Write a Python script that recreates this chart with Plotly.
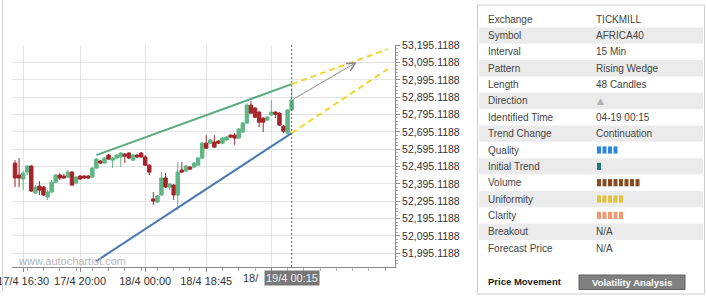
import plotly.graph_objects as go

# ---------------- data ----------------
OPEN = [52515, 52446, 52423, 52463, 52498, 52342, 52382, 52377, 52319, 52348,
        52405, 52446, 52440, 52434, 52463, 52400, 52440, 52440, 52440, 52434,
        52486, 52527, 52515, 52561, 52532, 52544, 52550, 52567, 52573, 52532,
        52561, 52573, 52550, 52503, 52308, 52290, 52331, 52429, 52377, 52388,
        52331, 52475, 52469, 52492, 52492, 52503, 52544, 52630, 52630, 52636,
        52642, 52630, 52648, 52676, 52676, 52659, 52694, 52746, 52849, 52832,
        52809, 52774, 52763, 52792, 52809, 52803, 52728, 52688, 52821]
HIGH = [52532, 52544, 52469, 52503, 52503, 52388, 52411, 52382, 52359, 52417,
        52452, 52457, 52452, 52475, 52469, 52440, 52446, 52446, 52446, 52492,
        52544, 52532, 52550, 52567, 52550, 52567, 52578, 52573, 52578, 52567,
        52567, 52578, 52561, 52509, 52348, 52331, 52463, 52457, 52400, 52394,
        52521, 52521, 52503, 52498, 52521, 52550, 52636, 52676, 52653, 52676,
        52648, 52665, 52671, 52682, 52688, 52717, 52751, 52861, 52872, 52838,
        52815, 52780, 52786, 52878, 52815, 52809, 52734, 52826, 52947]
LOW = [52377, 52377, 52359, 52446, 52348, 52336, 52331, 52325, 52302, 52342,
       52400, 52417, 52423, 52429, 52382, 52394, 52417, 52423, 52423, 52429,
       52480, 52509, 52509, 52532, 52486, 52538, 52492, 52515, 52538, 52527,
       52544, 52544, 52498, 52446, 52273, 52284, 52325, 52371, 52359, 52302,
       52244, 52457, 52463, 52475, 52486, 52498, 52538, 52596, 52625, 52601,
       52625, 52625, 52642, 52659, 52619, 52653, 52688, 52740, 52797, 52774,
       52723, 52694, 52757, 52786, 52774, 52728, 52688, 52682, 52815]
CLOSE = [52429, 52429, 52457, 52498, 52354, 52377, 52359, 52331, 52348, 52405,
         52446, 52429, 52429, 52463, 52388, 52434, 52423, 52429, 52429, 52486,
         52538, 52515, 52544, 52538, 52544, 52561, 52573, 52555, 52544, 52561,
         52550, 52550, 52503, 52463, 52296, 52325, 52429, 52377, 52394, 52331,
         52463, 52463, 52498, 52480, 52515, 52544, 52630, 52601, 52648, 52607,
         52630, 52659, 52665, 52665, 52659, 52711, 52746, 52849, 52803, 52780,
         52751, 52751, 52780, 52809, 52797, 52734, 52699, 52821, 52878]
CANDLE_IDX = list(range(len(OPEN)))

# wedge lines (candle index, price)
UPPER_X = [20, 68]
UPPER_Y = [52561, 52970]
LOWER_X = [20, 68]
LOWER_Y = [51950, 52688]
PROJ_UP_X = [68, 91.6]
PROJ_UP_Y = [52970, 53172]
PROJ_LO_X = [68, 91.6]
PROJ_LO_Y = [52688, 53057]
ARROW_FROM = (68, 52878)
ARROW_TO = (84, 53097)
IDENT_IDX = 68
IDENT_LABEL = "19/4 00:15"

# the last tick label is mostly hidden behind the identified-time box
X_TICK_IDX = [2, 16, 32, 47, 63]
X_TICK_TEXT = ["17/4 16:30", "17/4 20:00", "18/4 00:00", "18/4 18:45", ""]
HIDDEN_TICK_PART = "18/"
Y_TICKS = [51995.1188, 52095.1188, 52195.1188, 52295.1188, 52395.1188, 52495.1188,
           52595.1188, 52695.1188, 52795.1188, 52895.1188, 52995.1188, 53095.1188,
           53195.1188]
Y_TICK_TEXT = [f"{v:,.4f}" for v in Y_TICKS]

TABLE_LABELS = ["Exchange", "Symbol", "Interval", "Pattern", "Length", "Direction",
                "Identified Time", "Trend Change", "Quality", "Initial Trend",
                "Volume", "Uniformity", "Clarity", "Breakout", "Forecast Price"]
TABLE_VALUES = ["TICKMILL", "AFRICA40", "15 Min", "Rising Wedge", "48 Candles", "",
                "04-19 00:15", "Continuation", "", "", "", "", "", "N/A", "N/A"]
# bar ratings: row label -> (count, colour)
RATINGS = {"Quality": (4, "#2f86e0"), "Initial Trend": (1, "#1f7d6f"),
           "Volume": (8, "#8a4a1e"), "Uniformity": (5, "#e2c23e"),
           "Clarity": (5, "#f19a6e")}

GREEN = "#5fb584"
RED = "#a3252a"

# ---------------- layout geometry ----------------
FW, FH = 706, 301
L, R, T, B = 12, 395, 45, 267
PW, PH = R - L, B - T


def px(X):
    return (X - L) / PW


def py(Y):
    return (B - Y) / PH


fig = go.Figure()

fig.add_trace(go.Candlestick(
    x=CANDLE_IDX, open=OPEN, high=HIGH, low=LOW, close=CLOSE,
    increasing=dict(line=dict(color=GREEN, width=1), fillcolor=GREEN),
    decreasing=dict(line=dict(color=RED, width=1), fillcolor=RED),
    whiskerwidth=0, showlegend=False, hoverinfo="skip"))

fig.add_trace(go.Scatter(x=UPPER_X, y=UPPER_Y, mode="lines",
                         line=dict(color="#5aab82", width=2), showlegend=False))
fig.add_trace(go.Scatter(x=LOWER_X, y=LOWER_Y, mode="lines",
                         line=dict(color="#4a78b2", width=2), showlegend=False))
fig.add_trace(go.Scatter(x=PROJ_UP_X, y=PROJ_UP_Y, mode="lines",
                         line=dict(color="#f2d42e", width=2, dash="6px,4px"), showlegend=False))
fig.add_trace(go.Scatter(x=PROJ_LO_X, y=PROJ_LO_Y, mode="lines",
                         line=dict(color="#f2d42e", width=2, dash="6px,4px"), showlegend=False))

shapes = []
annotations = []

# identified-time dashed vertical
shapes.append(dict(type="line", xref="x", yref="paper", x0=IDENT_IDX, x1=IDENT_IDX,
                   y0=0, y1=1, line=dict(color="#666666", width=1, dash="2px,2px")))
# container left border
shapes.append(dict(type="line", xref="paper", yref="paper", x0=px(2.5), x1=px(2.5),
                   y0=py(0), y1=py(290), line=dict(color="#cfcfcf", width=1)))

# projection arrow
annotations.append(dict(x=ARROW_TO[0], y=ARROW_TO[1], ax=ARROW_FROM[0], ay=ARROW_FROM[1],
                        xref="x", yref="y", axref="x", ayref="y", text="", showarrow=True,
                        arrowhead=5, arrowsize=1.6, arrowwidth=1, arrowcolor="#8a8a8a"))

# watermark
annotations.append(dict(x=px(16), y=py(261), xref="paper", yref="paper", text="www.autochartist.com",
                        showarrow=False, xanchor="left", yanchor="middle",
                        font=dict(family="Liberation Sans", size=11, color="#b4b4b4")))

# visible part of the tick label hidden by the box
annotations.append(dict(x=px(261), y=py(278), xref="paper", yref="paper", text=HIDDEN_TICK_PART,
                        showarrow=False, xanchor="right", yanchor="middle",
                        font=dict(family="Liberation Sans", size=11, color="#333333")))

# identified time box on x axis
annotations.append(dict(x=IDENT_IDX, y=py(278), xref="x", yref="paper", text=IDENT_LABEL,
                        showarrow=False, xanchor="center", yanchor="middle",
                        bgcolor="#787878", borderpad=1,
                        font=dict(family="Liberation Sans", size=11, color="#f0f0f0")))

# ---------------- info panel ----------------
shapes.append(dict(type="rect", xref="paper", yref="paper", x0=px(477.5), x1=px(704.5),
                   y0=py(294), y1=py(5), line=dict(color="#cccccc", width=1),
                   fillcolor="white", layer="below"))
ROW0, ROWH = 19.2, 16.35
for i, (lab, val) in enumerate(zip(TABLE_LABELS, TABLE_VALUES)):
    cy = ROW0 + i * ROWH
    if i % 2 == 1:
        shapes.append(dict(type="rect", xref="paper", yref="paper", x0=px(479), x1=px(703),
                           y0=py(cy + ROWH / 2), y1=py(cy - ROWH / 2),
                           line=dict(width=0), fillcolor="#ebebeb", layer="below"))
    annotations.append(dict(x=px(486), y=py(cy), xref="paper", yref="paper", text=lab,
                            showarrow=False, xanchor="left", yanchor="middle",
                            font=dict(family="Liberation Sans", size=10, color="#444444")))
    if val:
        annotations.append(dict(x=px(594), y=py(cy), xref="paper", yref="paper", text=val,
                                showarrow=False, xanchor="left", yanchor="middle",
                                font=dict(family="Liberation Sans", size=10, color="#444444")))
    if lab == "Direction":
        annotations.append(dict(x=px(600), y=py(cy), xref="paper", yref="paper", text="▲",
                                showarrow=False, xanchor="center", yanchor="middle",
                                font=dict(family="DejaVu Sans", size=9, color="#b0b0b0")))
    if lab in RATINGS:
        n, col = RATINGS[lab]
        for k in range(n):
            x0 = 597 + k * 5.5
            shapes.append(dict(type="rect", xref="paper", yref="paper", x0=px(x0), x1=px(x0 + 4),
                               y0=py(cy + 3.6), y1=py(cy - 3.6), line=dict(width=0),
                               fillcolor=col))

# price movement + button
annotations.append(dict(x=px(486), y=py(281.5), xref="paper", yref="paper", text="<b>Price Movement</b>",
                        showarrow=False, xanchor="left", yanchor="middle",
                        font=dict(family="Liberation Sans", size=9.5, color="#222222")))
shapes.append(dict(type="rect", xref="paper", yref="paper", x0=px(579), x1=px(685),
                   y0=py(289.5), y1=py(275), line=dict(color="#5e5e5e", width=1),
                   fillcolor="#808080"))
annotations.append(dict(x=px(632), y=py(282), xref="paper", yref="paper", text="<b>Volatility Analysis</b>",
                        showarrow=False, xanchor="center", yanchor="middle",
                        font=dict(family="Liberation Sans", size=9.5, color="#ffffff")))

fig.update_layout(
    width=FW, height=FH,
    margin=dict(l=L, r=FW - R, t=T, b=FH - B, pad=0, autoexpand=False),
    paper_bgcolor="white", plot_bgcolor="white",
    showlegend=False, boxgap=0.15, boxgroupgap=0,
    shapes=shapes, annotations=annotations,
    xaxis=dict(range=[-0.74, 93.4], tickmode="array", tickvals=X_TICK_IDX, ticktext=X_TICK_TEXT,
               automargin=False,
               showgrid=True, gridcolor="#e4e4e4", gridwidth=1, zeroline=False,
               showline=True, linecolor="#8c8c8c", linewidth=1,
               ticks="outside", ticklen=4, tickcolor="#8c8c8c",
               tickfont=dict(family="Liberation Sans", size=11, color="#333333"),
               ticklabeloverflow="allow", rangeslider=dict(visible=False),
               minor=dict(dtick=4, tick0=3, ticks="outside", ticklen=3, tickcolor="#aaaaaa",
                          showgrid=False)),
    yaxis=dict(range=[51915.6, 53196], side="right", tickmode="array", tickvals=Y_TICKS,
               ticktext=Y_TICK_TEXT, showgrid=True, gridcolor="#e4e4e4", gridwidth=1,
               automargin=False,
               zeroline=False, showline=True, linecolor="#8c8c8c", linewidth=1,
               ticks="outside", ticklen=4, tickcolor="#8c8c8c",
               tickfont=dict(family="Liberation Sans", size=10.5, color="#333333"),
               minor=dict(dtick=20, tick0=51995.1188, ticks="outside", ticklen=2,
                          tickcolor="#aaaaaa", showgrid=False)),
)

fig.write_html("out.html")
